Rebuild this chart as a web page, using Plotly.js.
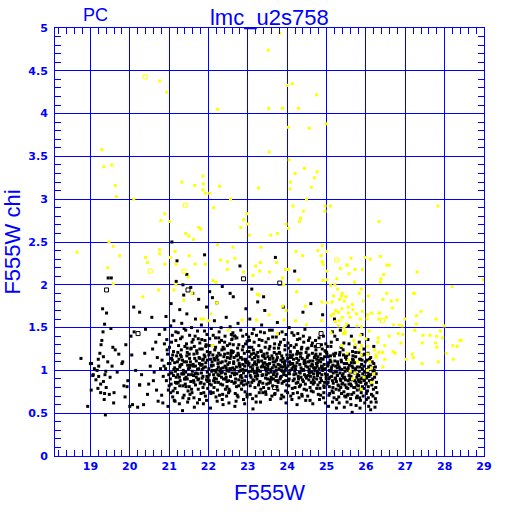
<!DOCTYPE html>
<html>
<head>
<meta charset="utf-8">
<script src="https://cdn.plot.ly/plotly-3.0.1.min.js"></script>
<style>html,body{margin:0;padding:0;background:#fff;}#chart{width:512px;height:512px;}</style>
</head>
<body>
<div id="chart"></div>
<script>
// ---- data: [F555W, F555W chi] ----
const chartTitle = "lmc_u2s758";
const chipLabel = "PC";
const xLabel = "F555W";
const yLabel = "F555W chi";

const blackLeft = [
[18.93,0.58],[18.76,1.14],[19.03,1.08],[19.06,0.94],[19.45,2.08],[19.53,2.08],[19.31,1.72],[19.41,1.67],[19.36,1.54],[19.52,1.49],
[19.32,1.45],[19.29,1.35],[19.27,1.3],[19.57,1.27],[19.63,1.24],[19.72,1.19],[19.2,1.13],[19.33,1.16],[19.82,1.1],[19.8,1.08],
[19.0,1.08],[19.21,1.05],[19.39,0.99],[19.37,0.95],[19.17,1.0],[19.07,0.95],[19.21,0.93],[19.33,0.87],[19.26,0.84],[19.19,0.79],
[19.26,0.74],[19.36,0.73],[19.48,0.72],[19.6,0.74],[19.35,0.66],[19.85,0.82],[19.95,0.88],[19.93,0.81],[19.88,0.69],[20.07,0.6],
[20.2,0.57],[20.25,0.83],[20.25,1.68],[20.1,1.74],[20.03,1.4],[20.11,1.45],[19.38,0.48],[19.1,1.02],[19.14,0.89],[19.44,1.1],
[19.5,0.92],[19.68,0.98],[19.02,0.77],[19.24,1.2],[19.4,0.8],[19.55,1.05],[20.15,1.0],[20.05,1.18],[19.9,1.3],[19.59,0.62],[20.0,0.58],
[20.3,0.95],[20.38,1.2],[20.45,0.72],[20.52,1.05],[20.6,0.88],[20.66,1.33],[20.72,0.64],[20.4,1.48],[20.56,1.62],[20.7,1.15],
[20.35,0.6],[20.62,0.98],[20.75,1.42],[20.48,0.84],[20.68,0.77],[20.78,1.02],[20.25,0.83],[20.58,1.25]
];

const blackMain = [
[20.82,1.12],[20.85,0.93],[20.88,1.31],[20.81,0.71],[20.87,1.05],[20.84,0.62],[20.89,1.48],
[20.93,0.88],[20.96,1.19],[20.91,1.02],[20.98,0.77],[20.94,1.36],[20.97,0.58],[20.92,1.63],[20.99,0.95],
[21.02,1.08],[21.05,0.84],[21.01,1.27],[21.07,0.97],[21.04,1.52],[21.09,0.69],[21.06,1.14],[21.03,0.9],[21.08,1.41],[21.05,1.78],
[21.12,1.01],[21.15,0.79],[21.11,1.22],[21.18,0.92],[21.14,1.09],[21.17,1.35],[21.13,0.65],[21.19,1.17],[21.16,0.86],[21.12,1.58],[21.18,2.04],
[21.22,0.95],[21.25,1.13],[21.21,0.74],[21.27,1.04],[21.24,1.29],[21.28,0.88],[21.23,1.44],[21.26,0.61],[21.29,1.18],[21.21,1.01],[21.27,1.71],
[21.32,1.07],[21.35,0.82],[21.31,1.24],[21.37,0.96],[21.34,1.12],[21.38,0.71],[21.33,1.39],[21.36,1.0],[21.39,0.9],[21.32,1.55],[21.37,1.88],[21.34,0.53],
[21.42,0.98],[21.45,1.17],[21.41,0.84],[21.47,1.06],[21.44,1.31],[21.48,0.76],[21.43,0.92],[21.46,1.21],[21.49,1.02],[21.42,1.47],[21.47,0.63],[21.45,1.66],
[21.52,1.03],[21.55,0.87],[21.51,1.19],[21.57,0.95],[21.54,1.1],[21.58,1.33],[21.53,0.72],[21.56,1.26],[21.59,0.99],[21.51,0.81],[21.57,1.5],[21.55,1.97],
[21.62,0.94],[21.65,1.14],[21.61,1.05],[21.67,0.83],[21.64,1.28],[21.68,0.97],[21.63,0.68],[21.66,1.4],[21.69,1.11],[21.62,0.88],[21.67,1.6],[21.64,0.57],
[21.72,1.01],[21.75,0.9],[21.71,1.2],[21.77,1.08],[21.74,0.78],[21.78,1.32],[21.73,0.96],[21.76,1.15],[21.79,0.85],[21.72,1.46],[21.77,0.66],[21.75,1.83],
[21.82,0.97],[21.85,1.12],[21.81,0.86],[21.87,1.03],[21.84,1.25],[21.88,0.74],[21.83,1.36],[21.86,0.93],[21.89,1.18],[21.82,1.53],[21.87,0.61],[21.84,1.07],
[21.92,1.04],[21.95,0.89],[21.91,1.16],[21.97,0.98],[21.94,1.3],[21.98,0.79],[21.93,1.09],[21.96,1.42],[21.99,0.92],[21.92,0.7],[21.97,1.22],[21.95,1.74],
[22.02,0.95],[22.05,1.13],[22.01,1.02],[22.07,0.83],[22.04,1.21],[22.08,0.99],[22.03,1.37],[22.06,0.73],[22.09,1.1],[22.02,0.88],[22.07,1.49],[22.05,0.56],[22.03,1.92],
[22.12,1.06],[22.15,0.91],[22.11,1.18],[22.17,1.0],[22.14,0.8],[22.18,1.27],[22.13,0.95],[22.16,1.12],[22.19,0.69],[22.12,1.41],[22.17,0.86],[22.15,1.58],
[22.22,1.01],[22.25,0.86],[22.21,1.15],[22.27,0.94],[22.24,1.08],[22.28,1.33],[22.23,0.77],[22.26,1.2],[22.29,0.99],[22.22,0.64],[22.27,1.45],[22.25,1.04],[22.21,1.79],
[22.32,0.97],[22.35,1.1],[22.31,0.84],[22.37,1.03],[22.34,1.24],[22.38,0.9],[22.33,1.35],[22.36,0.72],[22.39,1.16],[22.32,1.5],[22.37,0.6],[22.35,0.98],
[22.42,1.05],[22.45,0.92],[22.41,1.19],[22.47,0.81],[22.44,1.11],[22.48,1.29],[22.43,0.96],[22.46,0.7],[22.49,1.07],[22.42,1.4],[22.47,0.87],[22.45,1.62],
[22.52,0.99],[22.55,1.14],[22.51,0.88],[22.57,1.02],[22.54,0.76],[22.58,1.23],[22.53,1.09],[22.56,0.93],[22.59,1.36],[22.52,0.62],[22.57,1.17],[22.55,1.51],
[22.62,1.03],[22.65,0.85],[22.61,1.21],[22.67,0.97],[22.64,1.1],[22.68,0.73],[22.63,1.3],[22.66,1.01],[22.69,0.9],[22.62,1.44],[22.67,0.58],[22.65,1.15],[22.63,1.86],
[22.72,0.96],[22.75,1.12],[22.71,1.04],[22.77,0.82],[22.74,1.26],[22.78,0.99],[22.73,0.71],[22.76,1.18],[22.79,1.06],[22.72,1.38],[22.77,0.89],[22.75,1.55],
[22.82,1.0],[22.85,0.87],[22.81,1.15],[22.87,1.07],[22.84,0.78],[22.88,1.28],[22.83,0.94],[22.86,1.13],[22.89,0.66],[22.82,1.47],[22.87,1.01],[22.85,0.91],
[22.92,1.05],[22.95,0.93],[22.91,1.2],[22.97,0.84],[22.94,1.11],[22.98,1.34],[22.93,0.75],[22.96,1.0],[22.99,1.22],[22.92,0.61],[22.97,1.42],[22.95,1.09],
[23.02,0.98],[23.05,1.16],[23.01,0.86],[23.07,1.04],[23.04,1.27],[23.08,0.92],[23.03,1.08],[23.06,0.72],[23.09,1.19],[23.02,1.39],[23.07,0.99],[23.05,1.6],
[23.12,1.02],[23.15,0.88],[23.11,1.13],[23.17,0.97],[23.14,1.24],[23.18,0.8],[23.13,1.06],[23.16,1.33],[23.19,0.93],[23.12,0.67],[23.17,1.15],[23.15,1.48],[23.13,0.55],
[23.22,1.07],[23.25,0.94],[23.21,1.18],[23.27,0.83],[23.24,1.03],[23.28,1.29],[23.23,0.9],[23.26,1.12],[23.29,0.74],[23.22,1.41],[23.27,1.0],[23.25,1.21],
[23.32,0.99],[23.35,1.11],[23.31,0.87],[23.37,1.05],[23.34,1.22],[23.38,0.95],[23.33,0.78],[23.36,1.35],[23.39,1.08],[23.32,0.63],[23.37,1.17],[23.35,1.53],
[23.42,1.04],[23.45,0.91],[23.41,1.16],[23.47,0.99],[23.44,1.27],[23.48,0.84],[23.43,1.09],[23.46,0.72],[23.49,1.2],[23.42,1.44],[23.47,0.95],[23.45,1.02],[23.43,1.7],
[23.52,0.97],[23.55,1.13],[23.51,1.05],[23.57,0.86],[23.54,1.25],[23.58,1.01],[23.53,0.79],[23.56,1.14],[23.59,0.92],[23.52,1.37],[23.57,0.66],[23.55,1.08],
[23.62,1.03],[23.65,0.9],[23.61,1.17],[23.67,0.98],[23.64,1.1],[23.68,1.31],[23.63,0.82],[23.66,1.06],[23.69,0.73],[23.62,1.47],[23.67,1.21],[23.65,0.95],
[23.72,1.0],[23.75,1.15],[23.71,0.88],[23.77,1.07],[23.74,0.96],[23.78,1.26],[23.73,1.12],[23.76,0.77],[23.79,1.02],[23.72,1.39],[23.77,0.86],[23.75,1.56],
[23.82,1.06],[23.85,0.93],[23.81,1.2],[23.87,0.85],[23.84,1.12],[23.88,0.99],[23.83,1.33],[23.86,0.71],[23.89,1.14],[23.82,0.9],[23.87,1.45],[23.85,1.04],
[23.92,0.98],[23.95,1.11],[23.91,0.87],[23.97,1.03],[23.94,1.24],[23.98,0.94],[23.93,1.08],[23.96,0.76],[23.99,1.18],[23.92,1.36],[23.97,0.62],[23.95,1.0],
[24.02,1.05],[24.05,0.9],[24.01,1.14],[24.07,1.0],[24.04,0.82],[24.08,1.22],[24.03,0.97],[24.06,1.1],[24.09,0.7],[24.02,1.32],[24.07,1.07],[24.05,1.5],
[24.12,1.02],[24.15,0.88],[24.11,1.16],[24.17,0.95],[24.14,1.08],[24.18,1.27],[24.13,0.79],[24.16,1.13],[24.19,0.99],[24.12,0.66],[24.17,1.41],[24.15,1.04],
[24.22,0.96],[24.25,1.09],[24.21,1.01],[24.27,0.86],[24.24,1.19],[24.28,0.93],[24.23,1.3],[24.26,0.74],[24.29,1.12],[24.22,1.05],[24.27,1.43],[24.25,0.6],
[24.32,1.07],[24.35,0.92],[24.31,1.2],[24.37,1.0],[24.34,0.83],[24.38,1.14],[24.33,0.97],[24.36,1.25],[24.39,0.89],[24.32,1.37],[24.37,0.72],[24.35,1.03],
[24.42,1.0],[24.45,1.12],[24.41,0.87],[24.47,1.05],[24.44,0.95],[24.48,1.21],[24.43,0.78],[24.46,1.09],[24.49,0.91],[24.42,1.33],[24.47,0.65],[24.45,1.48],
[24.52,1.04],[24.55,0.89],[24.51,1.15],[24.57,0.97],[24.54,1.1],[24.58,0.8],[24.53,1.26],[24.56,1.01],[24.59,0.93],[24.52,0.7],[24.57,1.38],[24.55,1.18],
[24.62,0.98],[24.65,1.11],[24.61,0.86],[24.67,1.03],[24.64,1.2],[24.68,0.92],[24.63,1.07],[24.66,0.75],[24.69,1.15],[24.62,1.29],[24.67,0.96],[24.65,0.61],
[24.72,1.03],[24.75,0.9],[24.71,1.17],[24.77,0.99],[24.74,1.08],[24.78,0.83],[24.73,1.24],[24.76,1.05],[24.79,0.72],[24.72,1.35],[24.77,0.94],[24.75,1.13],
[24.82,0.97],[24.85,1.1],[24.81,1.02],[24.87,0.88],[24.84,1.19],[24.88,0.95],[24.83,0.79],[24.86,1.14],[24.89,1.04],[24.82,0.66],[24.87,1.3],[24.85,0.91],
[24.92,1.01],[24.95,0.86],[24.91,1.13],[24.97,0.96],[24.94,1.07],[24.98,1.22],[24.93,0.74],[24.96,1.02],[24.99,0.9],[24.92,1.4],[24.97,0.62],[24.95,1.16],
[25.02,0.95],[25.05,1.09],[25.01,0.84],[25.07,1.0],[25.04,1.16],[25.08,0.92],[25.03,1.05],[25.06,0.71],[25.09,1.12],[25.02,1.28],[25.07,0.81],[25.05,0.58],
[25.12,1.02],[25.15,0.88],[25.11,1.1],[25.17,0.97],[25.14,0.76],[25.18,1.19],[25.13,0.93],[25.16,1.06],[25.19,0.68],[25.12,1.33],[25.17,0.85],[25.15,1.45],
[25.22,0.99],[25.25,0.87],[25.21,1.11],[25.27,1.03],[25.24,0.78],[25.28,0.94],[25.23,1.2],[25.26,0.66],[25.29,1.07],[25.22,0.91],[25.27,1.36],[25.25,0.56],
[25.32,1.04],[25.35,0.9],[25.31,0.82],[25.37,1.12],[25.34,0.97],[25.38,0.73],[25.33,1.18],[25.36,0.88],[25.39,1.01],[25.32,0.62],[25.37,1.27],[25.35,1.47],
[25.42,0.96],[25.45,1.08],[25.41,0.85],[25.47,0.99],[25.44,0.75],[25.48,1.15],[25.43,0.91],[25.46,1.03],[25.49,0.69],[25.42,1.24],[25.47,0.83],[25.45,0.57],
[25.52,1.01],[25.55,0.88],[25.51,1.13],[25.57,0.94],[25.54,0.79],[25.58,1.06],[25.53,0.71],[25.56,1.19],[25.59,0.9],[25.52,0.63],[25.57,1.31],[25.55,1.0],
[25.62,0.93],[25.65,1.05],[25.61,0.84],[25.67,0.98],[25.64,0.72],[25.68,1.12],[25.63,0.89],[25.66,1.22],[25.69,0.8],[25.62,0.6],[25.67,1.03],[25.65,0.51],[25.63,1.4],
[25.72,0.97],[25.75,0.86],[25.71,1.09],[25.77,0.92],[25.74,1.16],[25.78,0.77],[25.73,1.01],[25.76,0.68],[25.79,0.95],[25.72,1.27],[25.77,0.83],[25.75,0.59],
[25.82,0.94],[25.85,1.04],[25.81,0.82],[25.87,0.9],[25.84,1.13],[25.88,0.74],[25.83,0.99],[25.86,0.65],[25.89,1.07],[25.82,1.21],[25.87,0.86],[25.85,0.56],[25.83,1.33],
[25.92,0.96],[25.95,0.88],[25.91,1.02],[25.97,0.93],[25.94,0.79],[25.98,1.1],[25.93,0.7],[25.96,0.99],[25.99,0.84],[25.92,1.18],[25.97,0.62],[25.95,1.05],
[26.02,0.91],[26.05,0.98],[26.01,0.85],[26.07,1.04],[26.04,0.76],[26.08,0.93],[26.03,1.12],[26.06,0.68],[26.09,0.88],[26.02,1.01],[26.07,0.58],[26.05,1.2],
[26.12,0.95],[26.15,0.83],[26.11,1.05],[26.17,0.9],[26.14,0.72],[26.18,0.99],[26.13,0.63],[26.16,1.1],[26.19,0.78],[26.12,0.54],
[26.22,0.92],[26.25,0.8],[26.21,1.0],[26.27,0.86],[26.24,0.67],[26.28,0.74],[26.23,0.57],[26.26,0.96]
];

const blackCore = [
[21.03,0.97],[21.14,1.03],[21.26,0.92],[21.38,1.1],[21.49,0.95],[21.61,1.07],[21.73,0.89],[21.84,1.01],[21.96,0.93],[22.08,1.05],
[22.19,0.98],[22.31,1.09],[22.43,0.9],[22.54,1.02],[22.66,0.95],[22.78,1.08],[22.89,0.97],[23.01,1.06],[23.13,0.89],[23.24,1.0],
[23.36,0.94],[23.48,1.07],[23.59,0.98],[23.71,1.04],[23.83,0.92],[23.94,1.06],[24.06,0.96],[24.18,1.05],[24.29,0.9],[24.41,1.01],
[24.53,0.94],[24.64,1.06],[24.76,0.97],[24.88,1.03],[24.99,0.93],[25.11,0.99],[25.23,0.9],[25.34,1.02],[25.46,0.92],
[21.08,1.12],[21.19,0.85],[21.31,1.16],[21.43,0.81],[21.54,1.06],[21.66,0.96],[21.78,1.14],[21.89,0.84],[22.01,1.18],[22.13,0.88],
[22.24,1.12],[22.36,0.83],[22.48,1.15],[22.59,0.87],[22.71,1.17],[22.83,0.85],[22.94,1.13],[23.06,0.82],[23.18,1.1],[23.29,0.86],
[23.41,1.19],[23.53,0.85],[23.64,1.14],[23.76,0.88],[23.88,1.1],[23.99,0.83],[24.11,1.08],[24.23,0.85],[24.34,1.16],[24.46,0.84],
[24.58,1.11],[24.69,0.86],[24.81,1.12],[24.93,0.82],[25.04,1.07],[25.16,0.8],[25.28,1.1],[25.39,0.84],[25.51,1.08],[25.63,0.82],
[25.74,1.02],[25.86,0.78],[25.98,0.98],
[21.1,0.76],[21.22,1.21],[21.35,0.68],[21.46,1.26],[21.58,0.74],[21.7,1.23],[21.81,0.73],[21.93,1.28],[22.05,0.75],[22.16,1.24],
[22.28,0.71],[22.4,1.25],[22.51,0.74],[22.63,1.22],[22.75,0.69],[22.86,1.24],[22.98,0.72],[23.1,1.27],[23.21,0.7],[23.33,1.23],
[23.45,0.75],[23.56,1.28],[23.68,0.72],[23.8,1.21],[23.91,0.69],[24.03,1.26],[24.15,0.73],[24.26,1.22],[24.38,0.7],[24.5,1.25],
[24.61,0.76],[24.73,1.19],[24.85,0.71],[24.96,1.23],[25.08,0.73],[25.2,1.17],[25.31,0.69],[25.43,1.18],[25.55,0.72],[25.66,1.13],
[25.78,0.7],[25.9,1.12],[26.01,0.73],[26.13,0.86],
[21.16,0.99],[21.28,1.06],[21.4,0.9],[21.52,1.14],[21.63,0.86],[21.75,1.02],[21.87,1.13],[21.98,0.87],[22.1,1.0],[22.22,1.17],
[22.33,0.92],[22.45,1.03],[22.57,1.2],[22.68,0.86],[22.8,1.04],[22.92,0.88],[23.03,1.22],[23.15,0.99],[23.26,1.16],[23.38,0.85],
[23.5,1.02],[23.61,0.9],[23.73,1.19],[23.85,1.0],[23.96,0.88],[24.08,1.15],[24.2,1.02],[24.31,0.81],[24.43,1.11],[24.55,0.99],
[24.66,0.89],[24.78,1.16],[24.9,1.0],[25.01,1.19],[25.13,1.04],[25.25,0.98],[25.36,0.8],[25.48,0.89],[25.6,0.98],[25.71,0.88],
[25.83,0.87],[25.94,0.91],[26.06,0.81],[26.17,1.03]
];

const blackBand = [
[20.95,1.24],[21.0,0.82],[21.06,1.33],[21.11,0.94],[21.17,1.45],[21.23,0.86],[21.29,1.37],[21.34,0.96],[21.4,1.28],[21.46,0.9],
[21.52,1.41],[21.57,0.78],[21.63,1.19],[21.69,0.92],[21.74,1.37],[21.8,1.06],[21.86,0.8],[21.91,1.35],[21.97,1.12],[22.03,0.84],
[22.09,1.29],[22.14,1.14],[22.2,0.9],[22.26,1.38],[22.31,1.02],[22.37,1.27],[22.43,0.78],[22.49,1.2],[22.54,1.31],[22.6,0.97],
[22.66,1.4],[22.71,0.81],[22.77,1.3],[22.83,1.15],[22.89,0.83],[22.94,1.31],[23.0,1.1],[23.06,0.94],[23.11,1.43],[23.17,1.08],
[23.23,0.97],[23.29,1.36],[23.34,1.04],[23.4,0.8],[23.46,1.33],[23.51,1.16],[23.57,0.89],[23.63,1.39],[23.69,1.1],[23.74,0.81],
[23.8,1.3],[23.86,1.17],[23.91,0.95],[23.97,1.42],[24.03,0.88],[24.09,1.29],[24.14,1.18],[24.2,0.8],[24.26,1.36],[24.31,0.98],
[24.37,1.27],[24.43,1.08],[24.49,0.77],[24.54,1.35],[24.6,1.05],[24.66,0.84],[24.71,1.28],[24.77,1.09],[24.83,0.86],[24.89,1.25],
[24.94,0.8],[25.0,1.21],[25.06,0.9],[25.11,1.28],[25.17,0.74],[25.23,1.05],[25.29,0.83],[25.34,1.21],[25.4,0.94],[25.46,0.7],
[25.51,1.17],[25.57,0.84],[25.63,1.09],[25.69,0.74],[25.74,1.21],[25.8,0.89],[25.86,1.13],[25.91,0.81],[25.97,1.19],[26.03,0.93],
[26.09,1.13],[26.14,0.88],[26.2,1.08],[26.26,0.63],
[20.98,1.08],[21.04,0.74],[21.09,1.18],[21.15,0.64],[21.21,1.1],[21.27,0.82],[21.32,0.96],[21.38,1.49],[21.44,1.1],[21.5,0.67],
[21.55,1.25],[21.61,1.36],[21.67,1.05],[21.72,0.62],[21.78,1.25],[21.84,0.91],[21.9,1.46],[21.95,0.65],[22.01,1.29],[22.07,1.06],
[22.12,0.74],[22.18,1.38],[22.24,0.95],[22.3,1.18],[22.35,0.66],[22.41,1.33],[22.47,1.0],[22.52,0.78],[22.58,1.42],[22.64,1.08],
[22.7,0.64],[22.75,1.2],[22.81,0.93],[22.87,1.4],[22.92,1.0],[22.98,0.69],[23.04,1.35],[23.1,0.86],[23.15,1.2],[23.21,0.63],
[23.27,1.1],[23.32,1.45],[23.38,0.74],[23.44,1.14],[23.5,0.9],[23.55,1.47],[23.61,0.7],[23.67,1.26],[23.72,0.93],[23.78,1.43],
[23.84,0.67],[23.9,1.04],[23.95,1.29],[24.01,0.74],[24.07,1.18],[24.12,1.44],[24.18,0.9],[24.24,1.14],[24.3,0.68],[24.35,1.2],
[24.41,1.4],[24.47,0.93],[24.52,1.17],[24.58,0.65],[24.64,1.32],[24.7,1.0],[24.75,0.79],[24.81,1.38],[24.87,1.05],[24.92,0.68],
[24.98,1.31],[25.04,0.86],[25.1,1.17],[25.15,0.63],[25.21,1.4],[25.27,0.94],[25.32,0.77],[25.38,1.1],[25.44,1.32],[25.5,0.8],
[25.55,1.03],[25.61,0.67],[25.67,1.17],[25.72,0.8],[25.78,1.04],[25.84,0.68],[25.9,0.91],[25.95,1.25],[26.01,0.66],[26.07,0.95],
[26.12,1.15],[26.18,0.7],[26.24,1.04]
];

const blackHigh = [
[21.07,2.5],[22.8,2.22],[23.7,2.32],[24.19,2.16],[21.2,2.28],[21.45,2.12],[22.35,1.98],[21.9,2.35],[22.55,1.9],[23.4,1.86],
[24.6,1.78],[23.9,1.74],[21.6,1.9],[22.1,1.85],[25.2,1.6],[24.9,1.65],[21.35,2.0],[23.1,1.95],[24.4,1.68],[25.55,1.52],
[25.9,1.42],[26.05,1.36],[26.2,1.28],[22.95,1.72],[23.25,1.8]
];

const blackOpen = [
[19.41,1.94],[21.48,1.94],[22.89,2.07],[20.21,1.43],[23.81,2.02],[24.86,1.43],[24.79,1.29],[23.68,0.8],[22.65,1.39]
];

const yellowPts = [
[23.81,4.94],[23.52,4.74],[20.76,4.38],[20.94,4.25],[24.0,4.33],[24.13,4.35],[24.75,4.22],[23.53,4.06],[23.88,4.06],[24.29,4.06],
[22.23,4.05],[24.03,3.84],[24.56,3.83],[24.99,3.88],[23.54,3.55],[24.05,3.46],[24.44,3.36],[24.2,3.3],[24.76,3.32],[24.69,3.25],
[24.08,3.2],[24.07,3.12],[24.61,3.14],[23.27,3.13],[22.28,3.15],[21.86,3.27],[21.87,3.18],[21.86,3.11],[21.92,3.07],[22.03,3.07],
[22.56,3.0],[24.49,3.0],[22.13,2.9],[24.15,2.92],[24.96,2.92],[25.1,2.92],[24.96,2.86],[24.41,2.86],[26.33,2.74],[22.97,2.83],
[22.89,2.76],[22.99,2.71],[24.34,2.78],[24.31,2.74],[23.97,2.71],[24.03,2.66],[22.82,2.67],[23.04,2.58],[23.58,2.58],[23.75,2.6],
[19.29,3.58],[19.34,3.38],[19.54,3.4],[19.63,3.16],[19.66,3.03],[20.1,3.0],[21.32,3.2],[21.65,3.16],
[20.89,2.83],[20.79,2.75],[21.01,2.74],[21.42,2.6],[21.5,2.57],[21.62,2.53],[21.75,2.67],[21.8,2.65],
[19.47,2.5],[19.58,2.45],[19.74,2.34],[19.44,2.2],[19.58,2.01],[20.4,2.32],[20.45,2.26],[20.76,2.41],[20.76,2.36],[20.89,2.24],
[21.03,2.32],[21.15,2.39],[22.23,2.47],[22.31,2.29],[22.48,2.27],[22.62,2.44],[22.67,2.31],[22.48,2.18],[18.66,2.38],
[20.33,1.86],[20.73,1.94],[21.12,1.94],[21.17,2.0],[21.37,1.82],[21.48,2.09],[21.58,1.9],[21.81,1.6],[21.17,2.24],[21.51,2.34],[21.66,2.24],
[23.33,2.44],[21.92,2.24],[23.2,2.22],[23.32,2.26],[22.89,2.15],[23.13,2.11],[23.3,2.16],[23.55,2.15],[23.73,2.26],[23.95,2.18],
[24.03,2.18],[23.88,2.08],[23.91,2.0],[24.29,2.06],[24.22,2.39],[24.39,2.34],[24.78,2.4],[24.86,2.34],[24.89,2.46],[25.01,2.39],
[24.89,2.27],[24.91,2.24],[25.01,2.16],[25.52,2.23],[25.35,2.19],[24.91,2.05],[25.01,2.06],[22.19,2.03],[22.11,2.05],[22.21,1.79],
[23.28,1.88],[23.24,1.89],[23.88,1.75],[23.97,1.7],[24.24,1.92],[24.46,1.75],[24.88,1.8],[25.01,1.79],[25.18,1.87],
[25.28,1.95],[25.33,1.83],[25.4,1.9],[25.39,1.72],[25.3,1.68],[25.23,1.7],[25.18,1.66],[25.22,1.57],[25.32,1.58],[25.4,1.62],
[25.44,1.5],[25.47,1.46],[25.3,1.52],[25.12,1.64],[25.14,1.8],[25.21,2.0],[25.26,2.07],
[21.87,1.6],[22.0,1.58],[22.06,1.66],[22.85,1.59],[23.22,1.59],[23.54,1.65],[23.92,1.59],[24.21,1.58],[24.49,1.53],[24.87,1.58],
[25.47,1.43],[25.52,1.2],[25.11,1.44],[22.5,1.47],[22.1,1.29],[23.75,1.43],[25.1,1.99],
[27.83,2.92],[25.62,2.31],[25.98,2.32],[26.11,2.3],[26.37,2.33],[25.52,2.23],[25.72,2.18],[25.91,2.18],[26.53,2.23],[26.59,2.23],
[25.57,2.13],[26.45,2.12],[27.3,2.15],[26.38,2.07],[26.37,2.03],[25.71,2.03],[28.98,2.06],[28.19,1.98],[25.88,1.95],[25.83,1.9],
[25.38,1.87],[25.49,1.86],[26.06,1.87],[26.53,1.9],[27.23,1.9],[27.21,1.9],[26.43,1.83],[26.64,1.81],[26.79,1.82],[25.45,1.81],
[25.66,1.77],[25.55,1.74],[25.94,1.81],[26.67,1.73],[25.67,1.71],[25.91,1.69],[26.14,1.67],[26.04,1.65],[25.55,1.67],[25.76,1.66],
[26.33,1.67],[26.35,1.67],[27.4,1.69],[27.28,1.64],[26.52,1.62],[25.6,1.62],[25.86,1.6],[26.03,1.6],[26.33,1.6],[26.99,1.6],
[27.78,1.6],[25.5,1.54],[25.77,1.52],[25.89,1.51],[26.7,1.53],[26.84,1.53],[26.92,1.52],[27.28,1.54],[27.99,1.52],[25.42,1.43],
[25.86,1.41],[26.08,1.46],[26.31,1.38],[26.59,1.4],[26.82,1.43],[26.94,1.42],[27.24,1.47],[27.45,1.41],[27.63,1.41],[27.8,1.4],
[27.89,1.46],[27.95,1.38],[28.39,1.35],[28.42,1.35],[25.69,1.35],[26.3,1.33],[26.48,1.29],[26.89,1.32],[27.43,1.32],[27.77,1.32],
[28.21,1.29],[28.32,1.28],[25.38,1.29],[25.89,1.29],[26.04,1.28],[27.8,1.27],[26.33,1.21],[26.42,1.21],[26.69,1.22],[26.74,1.2],
[27.18,1.19],[28.04,1.2],[26.04,1.19],[25.88,1.18],[26.25,1.18],[26.26,1.15],[27.02,1.13],[28.22,1.13],[27.2,1.15],[26.48,1.13],
[27.43,1.08],[27.84,1.1],[26.43,1.04],[26.14,1.03],[25.6,0.99],[25.72,0.97],[26.04,1.0],[26.2,0.96],[26.14,0.86],[25.88,0.78],
[25.78,1.1],[25.95,0.92],[25.66,0.9],[26.1,1.1],[25.84,1.24],[25.56,1.12],[25.73,1.3],[26.22,1.24],[26.0,1.37]
];

const yellowOpen = [
[20.39,4.43],[20.52,2.16],[21.38,2.16],[21.41,2.93],[25.26,2.29],[26.42,1.58]
];

// ---- build traces ----
const blackAll = blackLeft.concat(blackMain, blackCore, blackBand, blackHigh);
const xs = a => a.map(p => p[0]);
const ys = a => a.map(p => p[1]);
const BLUE = '#0000ff';

const traces = [
  {type:'scatter', mode:'markers', x:xs(blackAll), y:ys(blackAll),
   marker:{symbol:'square', size:3, color:'#000000', line:{width:0}}, hoverinfo:'skip'},
  {type:'scatter', mode:'markers', x:xs(blackOpen), y:ys(blackOpen),
   marker:{symbol:'square-open', size:4, color:'#000000', line:{width:1}}, hoverinfo:'skip'},
  {type:'scatter', mode:'markers', x:xs(yellowPts), y:ys(yellowPts),
   marker:{symbol:'square', size:3, color:'#ffff00', line:{width:0}}, hoverinfo:'skip'},
  {type:'scatter', mode:'markers', x:xs(yellowOpen), y:ys(yellowOpen),
   marker:{symbol:'square-open', size:4, color:'#ffff00', line:{width:1}}, hoverinfo:'skip'}
];

const axisCommon = {
  showline:true, linecolor:BLUE, linewidth:1, mirror:'allticks',
  showgrid:true, gridcolor:BLUE, gridwidth:1, zeroline:false,
  ticks:'inside', ticklen:10, tickcolor:BLUE, tickwidth:1,
  tickfont:{family:'DejaVu Sans', size:11, color:BLUE, weight:'bold'},
  fixedrange:true
};

const layout = {
  width:512, height:512,
  margin:{l:55, r:28, t:28, b:56},
  paper_bgcolor:'#ffffff', plot_bgcolor:'#ffffff',
  showlegend:false,
  font:{family:'Liberation Sans', color:BLUE},
  title:{text:chartTitle, x:0.526, xanchor:'center', y:0.967, yanchor:'middle',
         font:{family:'Liberation Sans', size:22, color:BLUE}},
  xaxis:Object.assign({}, axisCommon, {
    range:[18.1, 29], dtick:1, tick0:0,
    minor:{dtick:0.2, ticklen:6, tickcolor:BLUE, ticks:'inside', showgrid:false},
    title:{text:xLabel, standoff:12, font:{family:'Liberation Sans', size:22, color:BLUE}}
  }),
  yaxis:Object.assign({}, axisCommon, {
    range:[0, 5], dtick:0.5, tick0:0,
    minor:{dtick:0.1, ticklen:6, tickcolor:BLUE, ticks:'inside', showgrid:false},
    ticklabelstandoff:4,
    title:{text:yLabel, standoff:10, font:{family:'Liberation Sans', size:22, color:BLUE}}
  }),
  annotations:[
    {text:chipLabel, xref:'paper', yref:'paper', x:0.095, y:1.0, xanchor:'center', yanchor:'bottom',
     yshift:1, showarrow:false, font:{family:'Liberation Sans', size:18, color:BLUE}}
  ]
};

Plotly.newPlot('chart', traces, layout, {displayModeBar:false, staticPlot:true});
</script>
</body>
</html>
